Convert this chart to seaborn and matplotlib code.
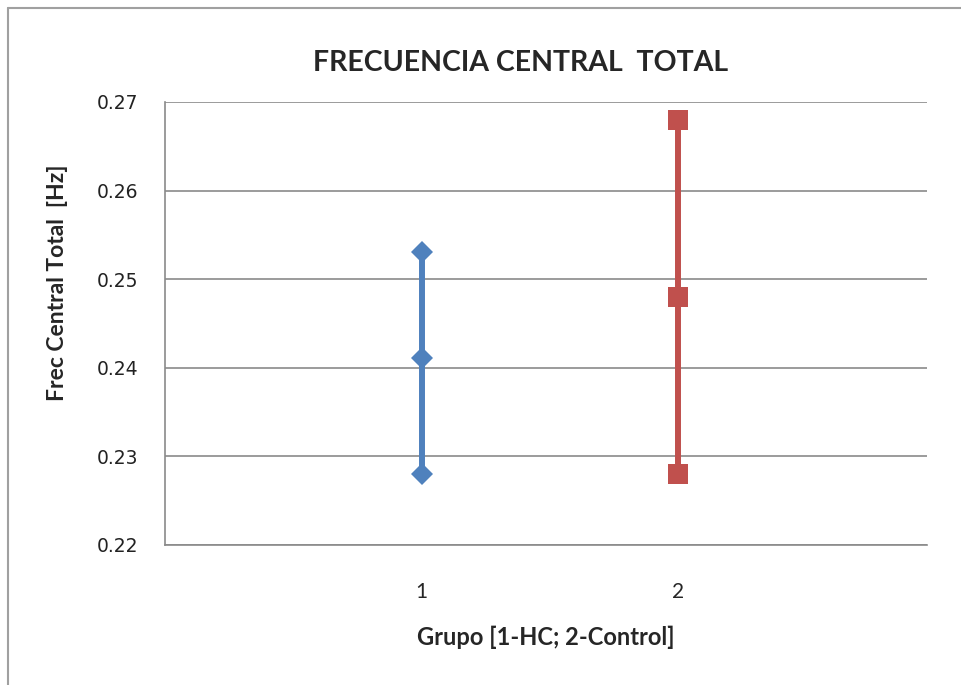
import pandas as pd
import matplotlib.pyplot as plt
from matplotlib.lines import Line2D
import seaborn as sns

grupos = [1, 1, 1, 2, 2, 2]
series = ["HC", "HC", "HC", "Control", "Control", "Control"]
valores = [0.2531, 0.2411, 0.2280, 0.2680, 0.2480, 0.2280]
yticks = [0.22, 0.23, 0.24, 0.25, 0.26, 0.27]
xticks = [1, 2]

df = pd.DataFrame({"grupo": grupos, "serie": series, "valor": valores})

sns.set_style("white")
narrow = ["Lato", "DejaVu Sans"]

fig = plt.figure(figsize=(9.61, 6.85), dpi=100)
ax = fig.add_axes([0.1717, 0.2044, 0.7929, 0.6467])

# chart frame: only left and top edges show in the screenshot
fx, fy = 8 / 961, 1 - 8 / 685
fig.add_artist(Line2D([fx, fx], [0, fy], transform=fig.transFigure,
                      color="#a0a0a0", linewidth=1.5))
fig.add_artist(Line2D([fx, 1], [fy, fy], transform=fig.transFigure,
                      color="#a0a0a0", linewidth=1.5))

sns.lineplot(data=df, x="grupo", y="valor", hue="serie", style="serie",
             palette={"HC": "#4F81BD", "Control": "#C0504D"},
             markers={"HC": "D", "Control": "s"}, dashes=False,
             estimator=None, sort=False, linewidth=4.3, markersize=11,
             markeredgewidth=0, legend=False, ax=ax)
# square marker a bit bigger than diamond
for line in ax.lines:
    if line.get_marker() == "s":
        line.set_markersize(14.5)

ax.set_xlim(0, 2.97)
ax.set_ylim(0.22, 0.27)
ax.set_yticks(yticks)
ax.set_yticklabels([f"{t:.2f}" for t in yticks], fontsize=13.5, color="#222222")
ax.set_xticks(xticks)
ax.set_xticklabels([str(t) for t in xticks], fontsize=15, family=narrow)
ax.tick_params(axis="y", length=0, pad=19)
ax.tick_params(axis="x", length=0, pad=27)
ax.yaxis.grid(True, color="#8a8a8a", linewidth=1.2)
ax.set_axisbelow(True)
for side in ["top", "right"]:
    ax.spines[side].set_visible(False)
for side in ["left", "bottom"]:
    ax.spines[side].set_color("#8a8a8a")
    ax.spines[side].set_linewidth(1.2)

ax.set_xlabel("Grupo [1-HC; 2-Control]", fontsize=17, fontweight="bold",
              family=narrow, labelpad=17)
ax.set_ylabel("Frec Central Total  [Hz]", fontsize=16.5, fontweight="bold",
              family=narrow)
ax.yaxis.set_label_coords(68 / 961, 1 - 283 / 685, transform=fig.transFigure)
fig.text(0.542, 0.908, "FRECUENCIA CENTRAL  TOTAL", ha="center", va="center",
         fontsize=20.5, fontweight="bold", family=narrow)

fig.savefig("out.png", dpi=100)
